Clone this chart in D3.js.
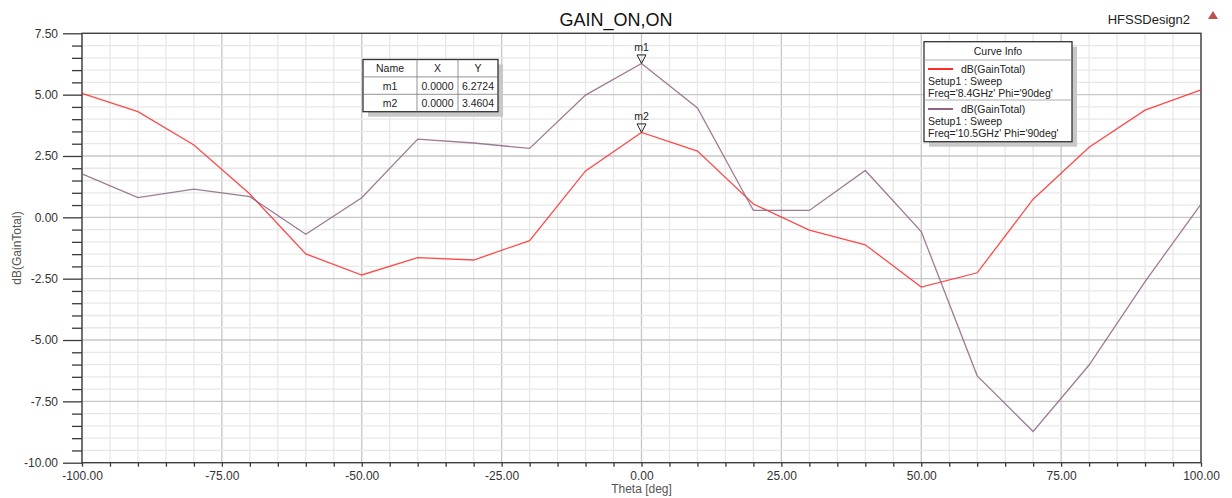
<!DOCTYPE html>
<html>
<head>
<meta charset="utf-8">
<script src="https://cdn.jsdelivr.net/npm/d3@7"></script>
<style>
  html, body { margin: 0; padding: 0; background: #fff; }
  svg { display: block; font-family: "Liberation Sans", Arial, sans-serif; }
</style>
</head>
<body>
<svg id="chart" width="1232" height="498"></svg>
<script>
// Far-field gain cut, Phi = 90deg, two frequencies
const theta = [-100, -90, -80, -70, -60, -50, -40, -30, -20, -10, 0, 10, 20, 30, 40, 50, 60, 70, 80, 90, 100];
const gain84 = [5.05, 4.31, 2.95, 0.95, -1.49, -2.35, -1.64, -1.74, -0.95, 1.89, 3.4604, 2.70, 0.54, -0.52, -1.12, -2.84, -2.26, 0.74, 2.86, 4.37, 5.19];
const gain105 = [1.77, 0.80, 1.15, 0.84, -0.69, 0.80, 3.19, 3.03, 2.81, 4.98, 6.2724, 4.46, 0.28, 0.28, 1.91, -0.58, -6.46, -8.73, -6.02, -2.62, 0.54];

const xTicks = [-100, -75, -50, -25, 0, 25, 50, 75, 100];
const yTicks = [-10, -7.5, -5, -2.5, 0, 2.5, 5, 7.5];

const markerNames = ["m1", "m2"];
const markerX = [0, 0];
const markerY = [6.2724, 3.4604];

const seriesColors = ["#ff2a2a", "#8e6483"];
const seriesInfo = [
  ["dB(GainTotal)", "Setup1 : Sweep", "Freq='8.4GHz' Phi='90deg'"],
  ["dB(GainTotal)", "Setup1 : Sweep", "Freq='10.5GHz' Phi='90deg'"]
];

const svg = d3.select("#chart");
const L = 82, R = 1201, T = 33.3, B = 462.7;

const x = d3.scaleLinear().domain([-100, 100]).range([L, R]);
const y = d3.scaleLinear().domain([-10, 7.5]).range([B, T]);

const isMajor = (list, d) => list.some(t => Math.abs(t - d) < 1e-6);
const fmt = d => d.toFixed(2);

// grid: minor every 5 deg / 0.5 dB, major every 25 deg / 2.5 dB
const minorX = d3.range(-100, 100.01, 5);
const minorY = d3.range(-10, 7.51, 0.5);
const grid = svg.append("g");
grid.selectAll("line.mx").data(minorX).join("line")
  .attr("x1", d => x(d)).attr("x2", d => x(d)).attr("y1", T).attr("y2", B)
  .attr("stroke", d => isMajor(xTicks, d) ? "#c6c6c6" : "#e8e8e8").attr("stroke-width", 1.3);
grid.selectAll("line.my").data(minorY).join("line")
  .attr("y1", d => y(d)).attr("y2", d => y(d)).attr("x1", L).attr("x2", R)
  .attr("stroke", d => isMajor(yTicks, d) ? "#c6c6c6" : "#e8e8e8").attr("stroke-width", 1.3);

// frame
svg.append("rect").attr("x", L).attr("y", T).attr("width", R - L).attr("height", B - T)
  .attr("fill", "none").attr("stroke", "#3a3a3a").attr("stroke-width", 1.3);

// axes
const xAxis = svg.append("g").attr("transform", `translate(0,${B})`)
  .call(d3.axisBottom(x).tickValues(minorX).tickSize(4)
    .tickFormat(d => isMajor(xTicks, d) ? fmt(d) : ""));
xAxis.select(".domain").remove();
xAxis.selectAll(".tick line").attr("stroke", "#3a3a3a").attr("stroke-width", 1.3);
xAxis.selectAll(".tick text").attr("fill", "#333").attr("font-size", 12)
  .attr("font-family", "Liberation Sans, Arial, sans-serif").attr("dy", "0.9em");

const yAxis = svg.append("g").attr("transform", `translate(${L},0)`)
  .call(d3.axisLeft(y).tickValues(minorY).tickSize(10)
    .tickFormat(d => isMajor(yTicks, d) ? fmt(d) : ""));
yAxis.select(".domain").remove();
yAxis.selectAll(".tick line").attr("stroke", "#3a3a3a").attr("stroke-width", 1.3)
  .attr("x2", d => isMajor(yTicks, d) ? -19 : -10);
yAxis.selectAll(".tick text").attr("fill", "#333").attr("font-size", 12)
  .attr("font-family", "Liberation Sans, Arial, sans-serif").attr("x", -24);

// axis titles
svg.append("text").attr("x", x(0)).attr("y", 493).attr("text-anchor", "middle")
  .attr("font-size", 12).attr("fill", "#555").text("Theta [deg]");
svg.append("text").attr("transform", `translate(21,${(T + B) / 2}) rotate(-90)`)
  .attr("text-anchor", "middle").attr("font-size", 12).attr("fill", "#555").text("dB(GainTotal)");

// title and design name
svg.append("text").attr("x", 616).attr("y", 26).attr("text-anchor", "middle")
  .attr("font-size", 18).attr("fill", "#111").text("GAIN_ON,ON");
svg.append("text").attr("x", 1190).attr("y", 24).attr("text-anchor", "end")
  .attr("font-size", 13).attr("fill", "#222").text("HFSSDesign2");
svg.append("path").attr("d", "M1208,19 L1213,11 L1218,19 Z").attr("fill", "#c0504d");

// curves
const line = d3.line().x((d, i) => x(theta[i])).y(d => y(d));
[gain84, gain105].forEach((s, k) => {
  svg.append("path").datum(s).attr("d", line).attr("fill", "none")
    .attr("stroke", seriesColors[k]).attr("stroke-width", 1.3).attr("opacity", 0.85);
});

// markers
markerNames.forEach((m, i) => {
  const px = x(markerX[i]), py = y(markerY[i]);
  svg.append("path").attr("d", `M${px - 4.5},${py - 8.5} L${px + 4.5},${py - 8.5} L${px},${py} Z`)
    .attr("fill", "none").attr("stroke", "#222").attr("stroke-width", 1);
  svg.append("text").attr("x", px).attr("y", py - 12).attr("text-anchor", "middle")
    .attr("font-size", 10.5).attr("fill", "#222").text(m);
});

// marker table
const tb = svg.append("g");
const tx = 363, ty = 59.5, colW = [54, 41, 40], rowH = 17.4;
const tW = d3.sum(colW), tH = rowH * 3;
tb.append("rect").attr("x", tx + 5).attr("y", ty + 5).attr("width", tW).attr("height", tH).attr("fill", "#c8c8c8");
tb.append("rect").attr("x", tx).attr("y", ty).attr("width", tW).attr("height", tH)
  .attr("fill", "#fff").attr("stroke", "#333").attr("stroke-width", 1.3);
const rows = [["Name", "X", "Y"]].concat(markerNames.map((m, i) => [m, markerX[i].toFixed(4), markerY[i].toFixed(4)]));
rows.forEach((r, ri) => {
  let cx = tx;
  r.forEach((c, ci) => {
    tb.append("text").attr("x", cx + colW[ci] / 2).attr("y", ty + rowH * ri + rowH / 2 + 4)
      .attr("text-anchor", "middle").attr("font-size", 10.5).attr("fill", "#222").text(c);
    cx += colW[ci];
  });
  if (ri > 0) tb.append("line").attr("x1", tx).attr("x2", tx + tW)
    .attr("y1", ty + rowH * ri).attr("y2", ty + rowH * ri).attr("stroke", "#777").attr("stroke-width", 0.8);
});
let cxl = tx;
colW.slice(0, -1).forEach(w => {
  cxl += w;
  tb.append("line").attr("x1", cxl).attr("x2", cxl).attr("y1", ty).attr("y2", ty + tH)
    .attr("stroke", "#777").attr("stroke-width", 0.8);
});

// curve info legend
const lg = svg.append("g");
const lx = 924, ly = 41.7, lw = 148, lh = 100;
lg.append("rect").attr("x", lx + 5).attr("y", ly + 5).attr("width", lw).attr("height", lh).attr("fill", "#c8c8c8");
lg.append("rect").attr("x", lx).attr("y", ly).attr("width", lw).attr("height", lh)
  .attr("fill", "#fff").attr("stroke", "#333").attr("stroke-width", 1.3);
lg.append("text").attr("x", lx + lw / 2).attr("y", ly + 13).attr("text-anchor", "middle")
  .attr("font-size", 10.5).attr("fill", "#222").text("Curve Info");
[60, 100].forEach(yy => lg.append("line").attr("x1", lx).attr("x2", lx + lw)
  .attr("y1", yy).attr("y2", yy).attr("stroke", "#999").attr("stroke-width", 0.8));
seriesInfo.forEach((info, k) => {
  const by = 69 + k * 40;
  lg.append("line").attr("x1", lx + 4).attr("x2", lx + 29).attr("y1", by).attr("y2", by)
    .attr("stroke", seriesColors[k]).attr("stroke-width", 2);
  lg.append("text").attr("x", lx + 37).attr("y", by + 4).attr("font-size", 10.5).attr("fill", "#222").text(info[0]);
  lg.append("text").attr("x", lx + 4).attr("y", by + 16).attr("font-size", 10.5).attr("fill", "#222").text(info[1]);
  lg.append("text").attr("x", lx + 4).attr("y", by + 28).attr("font-size", 10.5).attr("fill", "#222").text(info[2]);
});
</script>
</body>
</html>
